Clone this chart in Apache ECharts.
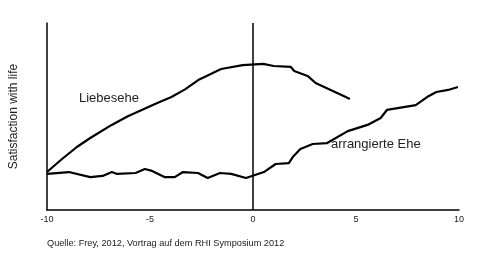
<!DOCTYPE html>
<html><head><meta charset="utf-8">
<script src="https://cdn.jsdelivr.net/npm/echarts@6/dist/echarts.min.js"></script>
<style>html,body{margin:0;padding:0;background:#fff}#c{width:480px;height:265px}</style>
</head><body><div id="c"></div>
<script>
var xTicks = [-10, -5, 0, 5, 10];
var liebeseheX = [-10, -9.3, -8.55, -7.9, -6.86, -6.1, -5.4, -4.7, -3.96, -3.3, -2.66, -2.1, -1.55, -0.5, 0.5, 1.0, 1.84, 2.0, 2.65, 3.04, 3.77, 4.4, 4.7];
var liebeseheY = [2.03, 2.7, 3.37, 3.85, 4.55, 5.0, 5.35, 5.7, 6.04, 6.45, 6.95, 7.25, 7.54, 7.75, 7.81, 7.70, 7.65, 7.43, 7.17, 6.79, 6.42, 6.10, 5.94];
var arrangiertX = [-10, -8.94, -7.9, -7.3, -6.85, -6.6, -5.7, -5.25, -4.9, -4.3, -3.8, -3.4, -2.67, -2.2, -1.6, -1.06, -0.34, 0.53, 1.1, 1.74, 1.93, 2.3, 2.9, 3.6, 3.77, 4.6, 5.56, 6.2, 6.5, 7.9, 8.45, 8.9, 9.47, 9.95];
var arrangiertY = [1.93, 2.03, 1.76, 1.82, 2.03, 1.93, 1.98, 2.19, 2.09, 1.76, 1.76, 2.03, 1.98, 1.71, 1.98, 1.93, 1.71, 2.03, 2.46, 2.51, 2.83, 3.26, 3.53, 3.58, 3.69, 4.22, 4.55, 4.92, 5.35, 5.61, 6.04, 6.31, 6.42, 6.58];
var seriesNames = ['Liebesehe', 'arrangierte Ehe'];
var yAxisTitle = 'Satisfaction with life';
var sourceText = 'Quelle: Frey, 2012, Vortrag auf dem RHI Symposium 2012';

function pairs(xs, ys){ return xs.map(function(x,i){ return [x, ys[i]]; }); }

var chart = echarts.init(document.getElementById('c'), null, {renderer:'canvas'});
var font = 'Liberation Sans, Arial, sans-serif';
chart.setOption({
  animation: false,
  backgroundColor: '#fff',
  grid: {left: 45, right: 21, top: 23, bottom: 55},
  xAxis: {
    type: 'value', min: -10, max: 10, interval: 5,
    axisLine: {onZero: false, lineStyle: {color: '#000', width: 1.5}},
    axisTick: {show: false},
    splitLine: {show: false},
    axisLabel: {color: '#222', fontSize: 9, fontFamily: font, margin: 5,
      formatter: function(v){ return xTicks.indexOf(v) >= 0 ? String(v) : ''; }}
  },
  yAxis: {
    type: 'value', min: 0, max: 10,
    name: yAxisTitle, nameLocation: 'middle', nameGap: 27,
    nameTextStyle: {color: '#222', fontSize: 12, fontFamily: font},
    axisLine: {show: true, onZero: false, lineStyle: {color: '#000', width: 1.5}},
    axisTick: {show: false}, axisLabel: {show: false}, splitLine: {show: false}
  },
  series: [
    {name: seriesNames[0], type: 'line', data: pairs(liebeseheX, liebeseheY), showSymbol: false, symbol: 'none',
     lineStyle: {color: '#000', width: 2.2}},
    {name: seriesNames[1], type: 'line', data: pairs(arrangiertX, arrangiertY), showSymbol: false, symbol: 'none',
     lineStyle: {color: '#000', width: 2.2},
     markLine: {silent: true, symbol: 'none', label: {show: false},
       lineStyle: {color: '#000', width: 1.5, type: 'solid'}, data: [{xAxis: 0}]}}
  ],
  graphic: [
    {type: 'text', left: 79, top: 92, style: {text: seriesNames[0], fill: '#222', font: '13px Liberation Sans, Arial, sans-serif'}},
    {type: 'text', left: 331, top: 138, style: {text: seriesNames[1], fill: '#222', font: '13px Liberation Sans, Arial, sans-serif'}},
    {type: 'text', left: 47, top: 239, style: {text: sourceText, fill: '#222', font: '9.2px Liberation Sans, Arial, sans-serif'}}
  ]
});
</script></body></html>
